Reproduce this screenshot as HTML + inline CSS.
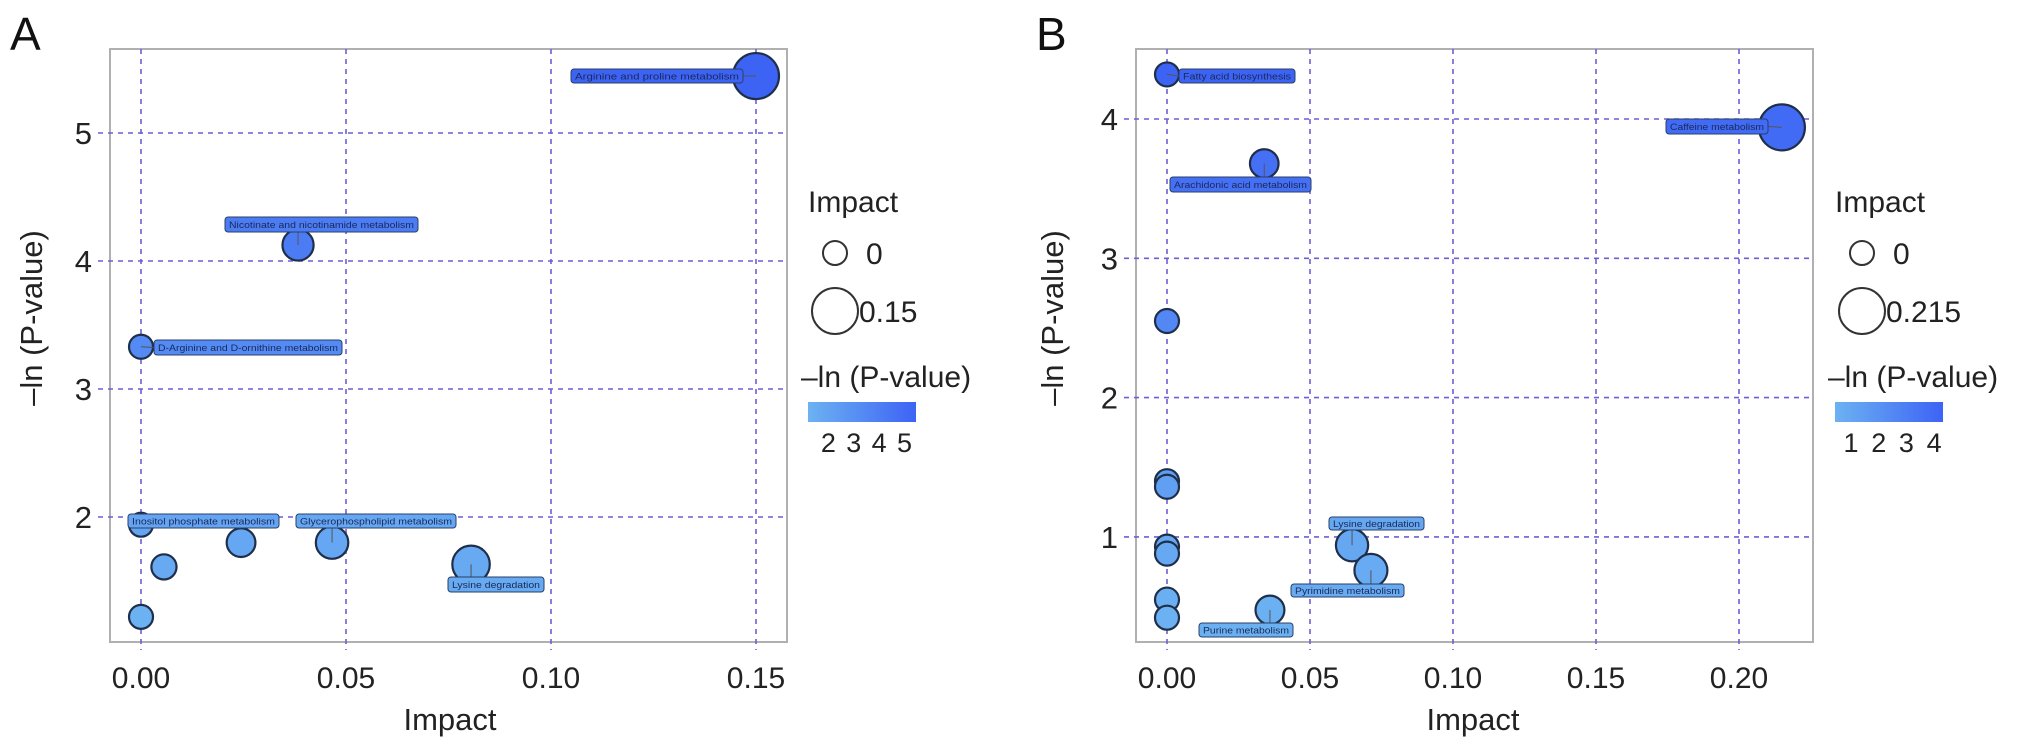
<!DOCTYPE html>
<html><head><meta charset="utf-8"><style>
html,body{margin:0;padding:0;background:#fff;}
svg{display:block;font-family:"Liberation Sans",Arial,sans-serif;}
</style></head><body>
<svg id="chart" width="2032" height="752" viewBox="0 0 2032 752" xmlns="http://www.w3.org/2000/svg">
<defs>
<linearGradient id="cbar" x1="0" x2="1" y1="0" y2="0"><stop offset="0" stop-color="#6cb2f2"/><stop offset="1" stop-color="#3d63f5"/></linearGradient>
</defs>
</svg>
<script>
// ---- Panel A data ----
const aNames = ["Arginine and proline metabolism","Nicotinate and nicotinamide metabolism","D-Arginine and D-ornithine metabolism","Inositol phosphate metabolism","","Glycerophospholipid metabolism","","","Lysine degradation"];
const aImpact = [0.150,0.0383,0.000,0.000,0.0244,0.0466,0.0056,0.000,0.0805];
const aLogP = [5.445,4.125,3.33,1.94,1.80,1.80,1.61,1.22,1.63];
const aXTicks = [0,0.05,0.10,0.15];
const aXTickLabels = ["0.00","0.05","0.10","0.15"];
const aYTicks = [2,3,4,5];
const aCbTicks = [2,3,4,5];
const aSizeLegend = ["0","0.15"];
// ---- Panel B data ----
const bNames = ["Fatty acid biosynthesis","Arachidonic acid metabolism","Caffeine metabolism","","","","","","","","Lysine degradation","Pyrimidine metabolism","Purine metabolism"];
const bImpact = [0.000,0.034,0.215,0.000,0.000,0.000,0.000,0.000,0.000,0.000,0.0647,0.0713,0.036];
const bLogP = [4.32,3.68,3.94,2.55,1.40,1.36,0.93,0.88,0.55,0.42,0.94,0.76,0.475];
const bXTicks = [0,0.05,0.10,0.15,0.20];
const bXTickLabels = ["0.00","0.05","0.10","0.15","0.20"];
const bYTicks = [1,2,3,4];
const bCbTicks = [1,2,3,4];
const bSizeLegend = ["0","0.215"];

const svg = document.getElementById('chart');
const NS = 'http://www.w3.org/2000/svg';
function mk(tag, attrs, parent){
  const e = document.createElementNS(NS, tag);
  for (const k in attrs) e.setAttribute(k, attrs[k]);
  (parent||svg).appendChild(e);
  return e;
}
function lerpColor(t){
  t=Math.max(0,Math.min(1,t));
  const a=[0x6c,0xb2,0xf2], b=[0x3d,0x63,0xf5];
  return 'rgb('+a.map((v,i)=>Math.round(v+(b[i]-v)*t)).join(',')+')';
}

function panel(cfg){
  const g = mk('g',{});
  
  
  const X = v => cfg.x0 + v*cfg.xs;
  const Y = v => cfg.y0 - (v-cfg.yRef)*cfg.ys;
  const R = imp => Math.sqrt(144 + imp*(529-144)/cfg.maxImp);
  const col = v => lerpColor((v-cfg.cmin)/(cfg.cmax-cfg.cmin));
  const fr = mk('rect',{x:cfg.L,y:cfg.T,width:cfg.Rr-cfg.L,height:cfg.B-cfg.T,fill:'#fff',stroke:'#b0b0b0','stroke-width':2},g);
  
  
  cfg.xt.forEach((v,i)=>{
    const l = mk('line',{x1:X(v),x2:X(v),y1:cfg.T,y2:cfg.B+8,stroke:'#6c5fd6','stroke-width':1.6,'stroke-dasharray':'5,5'},g);
    
    
    const t = mk('text',{x:X(v),y:688,'font-size':30,'text-anchor':'middle',fill:'#222'},g);
    t.textContent = cfg.xl[i];
    
    
  });
  cfg.yt.forEach(v=>{
    const l = mk('line',{x1:cfg.L-12,x2:cfg.Rr,y1:Y(v),y2:Y(v),stroke:'#6c5fd6','stroke-width':1.6,'stroke-dasharray':'5,5'},g);
    
    
    const t = mk('text',{x:cfg.L-18,y:Y(v)+11,'font-size':31,'text-anchor':'end',fill:'#222'},g);
    t.textContent = String(v);
    
    
  });
  cfg.imp.forEach((imp,i)=>{
    const c = mk('circle',{cx:X(imp),cy:Y(cfg.lp[i]),r:R(imp),fill:col(cfg.lp[i]),stroke:'#1f2f4a','stroke-width':2.2},g);
    
    
  });
  cfg.labels.forEach(lb=>{
    const i = lb.i;
    const px = X(cfg.imp[i]), py = Y(cfg.lp[i]);
    const bx = lb.x1, by = lb.y1, w = lb.x2-lb.x1, h = lb.y2-lb.y1;
    const ln = mk('line',{x1:px,y1:py,x2:Math.max(bx,Math.min(bx+w,px)),y2:by+h/2,stroke:'#555','stroke-width':1},g);
    
    
    const r = mk('rect',{x:bx,y:by,width:w,height:h,rx:3,fill:col(cfg.lp[i]),stroke:'#2a3f66','stroke-width':1},g);
    
    
    const t = mk('text',{x:bx+w/2,y:by+h/2+3.5,'font-size':9.5,'text-anchor':'middle',fill:'#1a2a55',textLength:w-8,lengthAdjust:'spacingAndGlyphs'},g);
    t.textContent = cfg.names[i];
    
    
  });
  const xt = mk('text',{x:cfg.xTitleX,y:730,'font-size':31,'text-anchor':'middle',fill:'#222'},g);
  xt.textContent = 'Impact';
  
  
  const yt = mk('text',{x:0,y:0,'font-size':31,'text-anchor':'middle',fill:'#222',transform:'translate('+cfg.yTitleX+',318) rotate(-90)'},g);
  yt.textContent = '\u2013ln (P-value)';
  
  
  const pl = mk('text',{x:cfg.letterX,y:50,'font-size':46,fill:'#111'},g);
  pl.textContent = cfg.letter;
  
  
  const lx = cfg.legX;
  const lt = mk('text',{x:lx+6,y:212,'font-size':30,fill:'#222'},g);
  lt.textContent = 'Impact';
  
  
  const c1 = mk('circle',{cx:lx+33,cy:253,r:12,fill:'none',stroke:'#333','stroke-width':2},g);
  
  
  const t1 = mk('text',{x:lx+64,y:264,'font-size':30,fill:'#222'},g);
  t1.textContent = cfg.sizeLeg[0];
  
  
  const c2 = mk('circle',{cx:lx+33,cy:311,r:23,fill:'none',stroke:'#333','stroke-width':2},g);
  
  
  const t2 = mk('text',{x:lx+57,y:322,'font-size':30,fill:'#222'},g);
  t2.textContent = cfg.sizeLeg[1];
  
  
  const ct = mk('text',{x:lx-1,y:387,'font-size':30,fill:'#222'},g);
  ct.textContent = '\u2013ln (P-value)';
  
  
  const cb = mk('rect',{x:lx+6,y:402,width:108,height:20,fill:'url(#cbar)'},g);
  
  
  cfg.cbt.forEach(v=>{
    const tx = lx+6 + (v-cfg.cmin)/(cfg.cmax-cfg.cmin)*108;
    const t = mk('text',{x:tx,y:452,'font-size':27,'text-anchor':'middle',fill:'#222'},g);
    t.textContent = String(v);
    
    
  });
}

panel({id:'a',letter:'A',letterX:10,L:110,Rr:787,T:49,B:642,x0:141,xs:4100,y0:133,yRef:5,ys:128,
  maxImp:0.15,cmin:1.2,cmax:5.45,imp:aImpact,lp:aLogP,names:aNames,xt:aXTicks,xl:aXTickLabels,yt:aYTicks,
  cbt:aCbTicks,sizeLeg:aSizeLegend,xTitleX:450,yTitleX:42,legX:802,
  labels:[{i:0,x1:571,x2:743,y1:69,y2:83},{i:1,x1:225,x2:418,y1:217,y2:232},{i:2,x1:154,x2:342,y1:340,y2:355},
          {i:3,x1:128,x2:279,y1:514,y2:528},{i:5,x1:296,x2:456,y1:514,y2:528},{i:8,x1:448,x2:544,y1:577,y2:592}]});
panel({id:'b',letter:'B',letterX:1036,L:1136,Rr:1813,T:49,B:642,x0:1167,xs:2860,y0:119,yRef:4,ys:139.3,
  maxImp:0.215,cmin:0.42,cmax:4.32,imp:bImpact,lp:bLogP,names:bNames,xt:bXTicks,xl:bXTickLabels,yt:bYTicks,
  cbt:bCbTicks,sizeLeg:bSizeLegend,xTitleX:1473,yTitleX:1063,legX:1829,
  labels:[{i:0,x1:1179,x2:1295,y1:69,y2:83},{i:1,x1:1170,x2:1311,y1:177,y2:192},{i:2,x1:1666,x2:1768,y1:119,y2:134},
          {i:10,x1:1329,x2:1424,y1:517,y2:530},{i:11,x1:1291,x2:1404,y1:584,y2:597},{i:12,x1:1199,x2:1293,y1:623,y2:637}]});
</script>
</body></html>
